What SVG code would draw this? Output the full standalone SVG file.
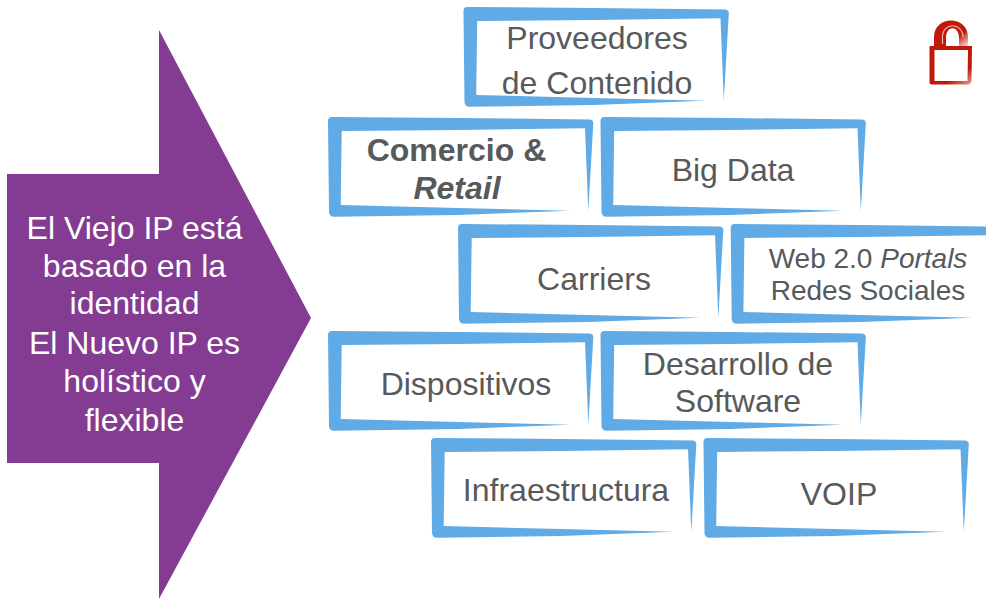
<svg xmlns="http://www.w3.org/2000/svg" width="986" height="599" viewBox="0 0 986 599">
<style>
text{font-family:"Liberation Sans",Arial,sans-serif;text-anchor:middle}
.n{font-size:32px;fill:#58595b}
.s{font-size:28px;fill:#58595b}
.w{font-size:32px;fill:#fff}
.f{fill:#60aae6}
</style>
<defs>
<path id="frame" fill-rule="evenodd" d="M4,0 L130,1 L262,2.500 Q265.500,3 265.300,6.500 L260.300,94 L257,11.300 L130,13 L13.700,14 L12.700,88 L130,91 L242,93.700 L130,98 L6,99.700 Q1.300,99.700 1,95 L0,4 Q0,0 4,0 Z"/>
<linearGradient id="lk" gradientUnits="userSpaceOnUse" x1="930" y1="20" x2="972" y2="85"><stop offset="0.8" stop-color="#c21807"/><stop offset="1" stop-color="#c21807" stop-opacity="0.4"/></linearGradient>
<linearGradient id="sh" gradientUnits="userSpaceOnUse" x1="954" y1="28" x2="968" y2="46"><stop offset="0.4" stop-color="#c21807"/><stop offset="1" stop-color="#c21807" stop-opacity="0.1"/></linearGradient>
</defs>
<g id="arrow"><polygon points="7,174 159,174 159,30 311,318 159,599 159,463 7,463" fill="#833c91"/>
<text class="w" x="134.500" y="239">El Viejo IP está</text>
<text class="w" x="134.500" y="277">basado en la</text>
<text class="w" x="134.500" y="314">identidad</text>
<text class="w" x="134.500" y="354">El Nuevo IP es</text>
<text class="w" x="134.500" y="392">holístico y</text>
<text class="w" x="134.500" y="431">flexible</text></g>
<g id="proveedores"><use href="#frame" class="f" x="463.500" y="7"/><text class="n" x="597" y="49">Proveedores</text><text class="n" x="597" y="94">de Contenido</text></g>
<g id="comercio"><use href="#frame" class="f" x="328" y="117"/><text class="n" x="456.500" y="161" font-weight="bold">Comercio &amp;</text><text class="n" x="457" y="199" font-weight="bold" font-style="italic">Retail</text></g>
<g id="bigdata"><use href="#frame" class="f" x="600.500" y="117"/><text class="n" x="733" y="181">Big Data</text></g>
<g id="carriers"><use href="#frame" class="f" x="458" y="224"/><text class="n" x="594" y="290">Carriers</text></g>
<g id="web"><use href="#frame" class="f" x="730.700" y="224"/><text class="s" x="868" y="268">Web 2.0 <tspan font-style="italic">Portals</tspan></text><text class="s" x="868" y="300">Redes Sociales</text></g>
<g id="dispositivos"><use href="#frame" class="f" x="328" y="331"/><text class="n" x="466" y="395">Dispositivos</text></g>
<g id="desarrollo"><use href="#frame" class="f" x="600.500" y="331"/><text class="n" x="738" y="375">Desarrollo de</text><text class="n" x="738" y="412">Software</text></g>
<g id="infra"><use href="#frame" class="f" x="431" y="438"/><text class="n" x="566" y="501">Infraestructura</text></g>
<g id="voip"><use href="#frame" class="f" x="703.500" y="438"/><text class="n" x="839" y="505">VOIP</text></g>
<g id="lock" fill="none"><path fill="url(#lk)" fill-rule="evenodd" d="M929.500,46 L972,46 L971.500,82 L969,84.500 L931,84.500 L929.500,83 Z M934.500,50 L934.500,81 L967.500,81 L968,50 Z"/>
<path fill="url(#sh)" d="M934,46 L934,37 C934,15 968,15 968,37 L968,46 L959,46 L959,38 C959,25 946,25 946,38 L946,46 Z"/>
<path d="M942.500,44 L942.500,37 C942.500,22 962.500,22 963,37" stroke="#fff" stroke-width="1.200" opacity=".7"/></g>
</svg>
